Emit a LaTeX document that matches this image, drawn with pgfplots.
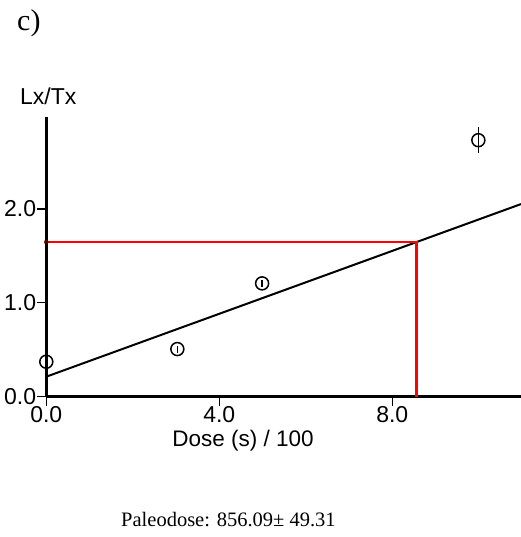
\documentclass[border=0pt]{standalone}
\usepackage{fontspec}
\setmainfont{Liberation Sans}
\newfontfamily\serif{Liberation Serif}
\usepackage{pgfplots}
\pgfplotsset{compat=1.18}

\begin{document}
\begin{tikzpicture}
  \useasboundingbox (0,0) rectangle (521bp,537bp);
  \begin{axis}[
      at={(46.3bp,140.3bp)}, anchor=south west,
      scale only axis,
      width=474.7bp, height=280bp,
      xmin=0, xmax=10.976,
      ymin=0, ymax=2.98,
      axis lines=left,
      axis line style={-, line width=2.7bp},
      tick align=outside,
      major tick length=9bp,
      tick style={line width=1.5bp, black},
      xtick={0,4,8}, ytick={0,1,2},
      /pgf/number format/assume math mode=true,
      /pgf/number format/.cd, fixed, fixed zerofill, precision=1, /pgfplots/.cd,
      ticklabel style={font=\fontsize{23bp}{26bp}\selectfont, inner sep=1pt},
      xlabel={Dose (s) / 100},
      xlabel style={at={(axis description cs:0.4144,0)}, anchor=base, yshift=-50bp,
        font=\fontsize{22.5bp}{26bp}\selectfont},
      ylabel={Lx/Tx},
      ylabel style={at={(axis description cs:0,1)}, anchor=base, rotate=-90,
        xshift=2bp, yshift=11.7bp, font=\fontsize{23bp}{26bp}\selectfont},
      clip=false,
    ]
    % fit line
    \addplot[black, line width=2bp] coordinates {(0,0.213) (10.976,2.050)};
    % paleodose read-off
    \addplot[red, line width=2.5bp] coordinates {(0,1.646) (8.56,1.646) (8.56,0)};
    \addplot[only marks, mark=*, mark size=2bp, color=black!70!red] coordinates {(0,1.646)};
    % measured points
    \addplot[only marks, mark=o, mark size=6.5bp, black,
      mark options={line width=1.5bp},
      error bars/.cd, y dir=both, y explicit,
      error mark=none, error bar style={line width=1.5bp}]
      coordinates {
        (0,0.372) +- (0,0.037)
        (3.03,0.507) +- (0,0.037)
        (4.99,1.206) +- (0,0.037)
        (9.99,2.73) +- (0,0.14)
      };
  \end{axis}
  \node[anchor=base west, inner sep=0pt, font=\serif\fontsize{30bp}{33bp}\selectfont]
    at (17bp,506bp) {c)};
  \node[anchor=base west, inner sep=0pt, font=\serif\fontsize{20.5bp}{24bp}\selectfont]
    at (121bp,10.3bp) {Paleodose: 856.09± 49.31};
\end{tikzpicture}
\end{document}
